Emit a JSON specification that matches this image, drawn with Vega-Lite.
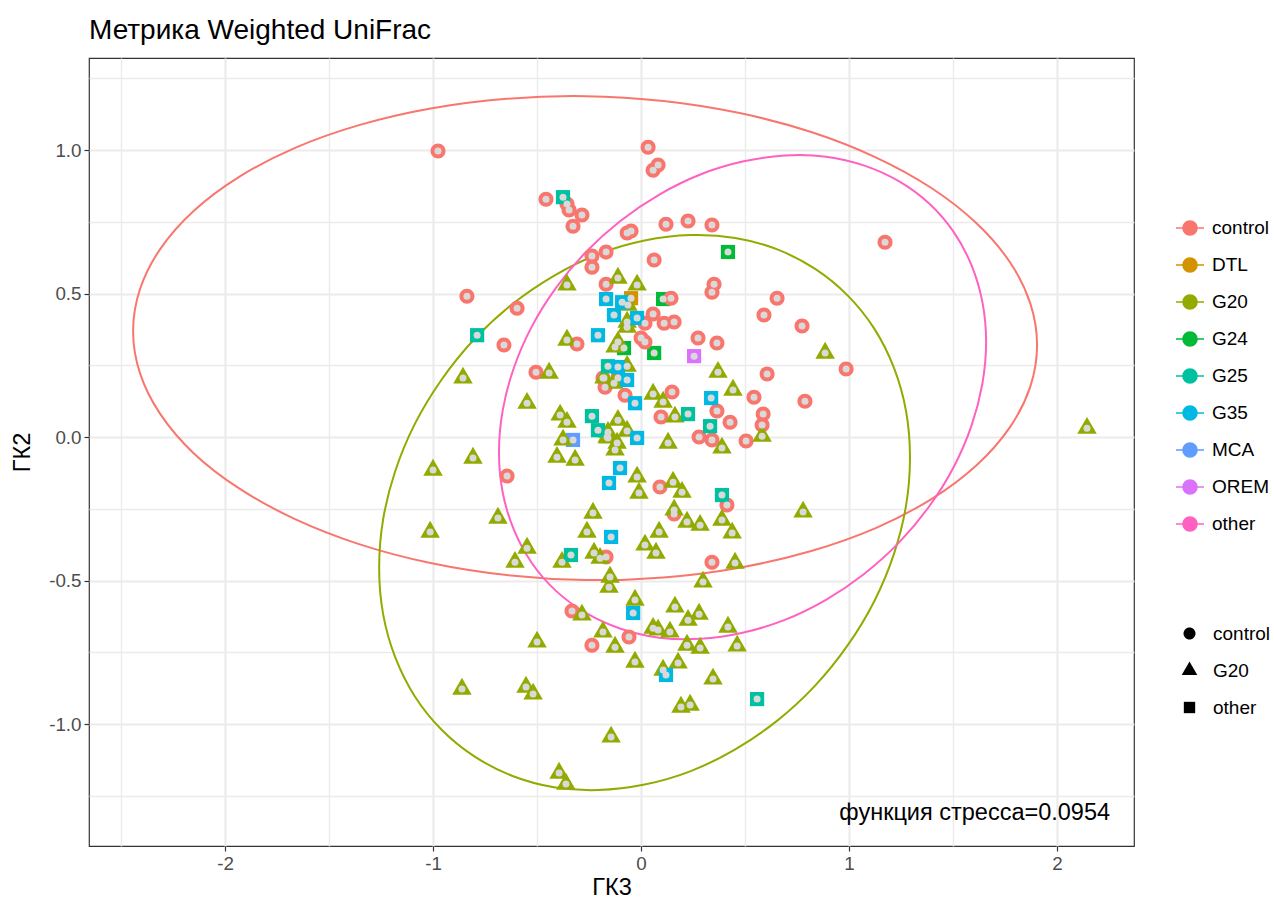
{
  "$schema": "https://vega.github.io/schema/vega-lite/v6.json",
  "autosize": {"type": "none"},
  "width": 1045,
  "height": 788,
  "padding": {"left": 89, "top": 58, "right": 140, "bottom": 55},
  "background": "#FFFFFF",
  "config": {
    "font": "Liberation Sans",
    "view": {"stroke": "#333333", "strokeWidth": 1.2},
    "legend": {"labelFont": "Liberation Sans", "labelFontSize": 19, "labelColor": "#000000"}
  },
  "title": {
    "text": "Метрика Weighted UniFrac",
    "anchor": "start",
    "frame": "group",
    "font": "Liberation Sans",
    "fontSize": 28,
    "fontWeight": "normal",
    "color": "#000000",
    "baseline": "alphabetic",
    "offset": 18,
    "dy": 27
  },
  "datasets": {
    "ellipses": [
      {"grp": "control", "k": 0, "x": 1.904, "y": 0.321},
      {"grp": "control", "k": 1, "x": 1.871, "y": 0.467},
      {"grp": "control", "k": 2, "x": 1.773, "y": 0.61},
      {"grp": "control", "k": 3, "x": 1.613, "y": 0.745},
      {"grp": "control", "k": 4, "x": 1.396, "y": 0.868},
      {"grp": "control", "k": 5, "x": 1.128, "y": 0.975},
      {"grp": "control", "k": 6, "x": 0.818, "y": 1.063},
      {"grp": "control", "k": 7, "x": 0.474, "y": 1.129},
      {"grp": "control", "k": 8, "x": 0.108, "y": 1.171},
      {"grp": "control", "k": 9, "x": -0.269, "y": 1.188},
      {"grp": "control", "k": 10, "x": -0.646, "y": 1.179},
      {"grp": "control", "k": 11, "x": -1.012, "y": 1.145},
      {"grp": "control", "k": 12, "x": -1.356, "y": 1.087},
      {"grp": "control", "k": 13, "x": -1.666, "y": 1.007},
      {"grp": "control", "k": 14, "x": -1.934, "y": 0.906},
      {"grp": "control", "k": 15, "x": -2.151, "y": 0.788},
      {"grp": "control", "k": 16, "x": -2.311, "y": 0.656},
      {"grp": "control", "k": 17, "x": -2.409, "y": 0.515},
      {"grp": "control", "k": 18, "x": -2.442, "y": 0.369},
      {"grp": "control", "k": 19, "x": -2.409, "y": 0.223},
      {"grp": "control", "k": 20, "x": -2.311, "y": 0.08},
      {"grp": "control", "k": 21, "x": -2.151, "y": -0.056},
      {"grp": "control", "k": 22, "x": -1.934, "y": -0.178},
      {"grp": "control", "k": 23, "x": -1.666, "y": -0.285},
      {"grp": "control", "k": 24, "x": -1.356, "y": -0.373},
      {"grp": "control", "k": 25, "x": -1.012, "y": -0.439},
      {"grp": "control", "k": 26, "x": -0.646, "y": -0.481},
      {"grp": "control", "k": 27, "x": -0.269, "y": -0.498},
      {"grp": "control", "k": 28, "x": 0.108, "y": -0.489},
      {"grp": "control", "k": 29, "x": 0.474, "y": -0.455},
      {"grp": "control", "k": 30, "x": 0.818, "y": -0.397},
      {"grp": "control", "k": 31, "x": 1.128, "y": -0.317},
      {"grp": "control", "k": 32, "x": 1.396, "y": -0.216},
      {"grp": "control", "k": 33, "x": 1.613, "y": -0.098},
      {"grp": "control", "k": 34, "x": 1.773, "y": 0.034},
      {"grp": "control", "k": 35, "x": 1.871, "y": 0.175},
      {"grp": "G20", "k": 0, "x": 1.293, "y": -0.071},
      {"grp": "G20", "k": 1, "x": 1.274, "y": 0.091},
      {"grp": "G20", "k": 2, "x": 1.216, "y": 0.241},
      {"grp": "G20", "k": 3, "x": 1.122, "y": 0.377},
      {"grp": "G20", "k": 4, "x": 0.994, "y": 0.493},
      {"grp": "G20", "k": 5, "x": 0.837, "y": 0.586},
      {"grp": "G20", "k": 6, "x": 0.655, "y": 0.654},
      {"grp": "G20", "k": 7, "x": 0.453, "y": 0.694},
      {"grp": "G20", "k": 8, "x": 0.239, "y": 0.704},
      {"grp": "G20", "k": 9, "x": 0.017, "y": 0.685},
      {"grp": "G20", "k": 10, "x": -0.205, "y": 0.638},
      {"grp": "G20", "k": 11, "x": -0.419, "y": 0.562},
      {"grp": "G20", "k": 12, "x": -0.621, "y": 0.462},
      {"grp": "G20", "k": 13, "x": -0.803, "y": 0.34},
      {"grp": "G20", "k": 14, "x": -0.96, "y": 0.199},
      {"grp": "G20", "k": 15, "x": -1.088, "y": 0.045},
      {"grp": "G20", "k": 16, "x": -1.182, "y": -0.119},
      {"grp": "G20", "k": 17, "x": -1.24, "y": -0.287},
      {"grp": "G20", "k": 18, "x": -1.259, "y": -0.455},
      {"grp": "G20", "k": 19, "x": -1.24, "y": -0.617},
      {"grp": "G20", "k": 20, "x": -1.182, "y": -0.767},
      {"grp": "G20", "k": 21, "x": -1.088, "y": -0.903},
      {"grp": "G20", "k": 22, "x": -0.96, "y": -1.019},
      {"grp": "G20", "k": 23, "x": -0.803, "y": -1.112},
      {"grp": "G20", "k": 24, "x": -0.621, "y": -1.18},
      {"grp": "G20", "k": 25, "x": -0.419, "y": -1.22},
      {"grp": "G20", "k": 26, "x": -0.205, "y": -1.23},
      {"grp": "G20", "k": 27, "x": 0.017, "y": -1.211},
      {"grp": "G20", "k": 28, "x": 0.239, "y": -1.164},
      {"grp": "G20", "k": 29, "x": 0.453, "y": -1.088},
      {"grp": "G20", "k": 30, "x": 0.655, "y": -0.988},
      {"grp": "G20", "k": 31, "x": 0.837, "y": -0.866},
      {"grp": "G20", "k": 32, "x": 0.994, "y": -0.725},
      {"grp": "G20", "k": 33, "x": 1.122, "y": -0.571},
      {"grp": "G20", "k": 34, "x": 1.216, "y": -0.407},
      {"grp": "G20", "k": 35, "x": 1.274, "y": -0.239},
      {"grp": "other", "k": 0, "x": 1.659, "y": 0.331},
      {"grp": "other", "k": 1, "x": 1.641, "y": 0.471},
      {"grp": "other", "k": 2, "x": 1.588, "y": 0.6},
      {"grp": "other", "k": 3, "x": 1.502, "y": 0.716},
      {"grp": "other", "k": 4, "x": 1.385, "y": 0.814},
      {"grp": "other", "k": 5, "x": 1.241, "y": 0.891},
      {"grp": "other", "k": 6, "x": 1.074, "y": 0.946},
      {"grp": "other", "k": 7, "x": 0.889, "y": 0.977},
      {"grp": "other", "k": 8, "x": 0.691, "y": 0.981},
      {"grp": "other", "k": 9, "x": 0.488, "y": 0.96},
      {"grp": "other", "k": 10, "x": 0.285, "y": 0.915},
      {"grp": "other", "k": 11, "x": 0.088, "y": 0.845},
      {"grp": "other", "k": 12, "x": -0.098, "y": 0.754},
      {"grp": "other", "k": 13, "x": -0.265, "y": 0.645},
      {"grp": "other", "k": 14, "x": -0.409, "y": 0.52},
      {"grp": "other", "k": 15, "x": -0.526, "y": 0.384},
      {"grp": "other", "k": 16, "x": -0.612, "y": 0.24},
      {"grp": "other", "k": 17, "x": -0.665, "y": 0.093},
      {"grp": "other", "k": 18, "x": -0.683, "y": -0.053},
      {"grp": "other", "k": 19, "x": -0.665, "y": -0.193},
      {"grp": "other", "k": 20, "x": -0.612, "y": -0.322},
      {"grp": "other", "k": 21, "x": -0.526, "y": -0.438},
      {"grp": "other", "k": 22, "x": -0.409, "y": -0.536},
      {"grp": "other", "k": 23, "x": -0.265, "y": -0.613},
      {"grp": "other", "k": 24, "x": -0.098, "y": -0.668},
      {"grp": "other", "k": 25, "x": 0.088, "y": -0.699},
      {"grp": "other", "k": 26, "x": 0.285, "y": -0.703},
      {"grp": "other", "k": 27, "x": 0.488, "y": -0.682},
      {"grp": "other", "k": 28, "x": 0.691, "y": -0.637},
      {"grp": "other", "k": 29, "x": 0.889, "y": -0.567},
      {"grp": "other", "k": 30, "x": 1.074, "y": -0.476},
      {"grp": "other", "k": 31, "x": 1.241, "y": -0.367},
      {"grp": "other", "k": 32, "x": 1.385, "y": -0.242},
      {"grp": "other", "k": 33, "x": 1.502, "y": -0.106},
      {"grp": "other", "k": 34, "x": 1.588, "y": 0.038},
      {"grp": "other", "k": 35, "x": 1.641, "y": 0.186}
    ],
    "samples": [
      {"grp": "DTL", "shp": "other", "x": -0.048, "y": 0.484},
      {"grp": "G24", "shp": "other", "x": 0.418, "y": 0.645},
      {"grp": "G24", "shp": "other", "x": 0.106, "y": 0.481},
      {"grp": "G24", "shp": "other", "x": -0.082, "y": 0.31},
      {"grp": "G24", "shp": "other", "x": 0.063, "y": 0.293},
      {"grp": "MCA", "shp": "other", "x": -0.327, "y": -0.01},
      {"grp": "control", "shp": "control", "x": -0.976, "y": 0.997},
      {"grp": "control", "shp": "control", "x": 0.034, "y": 1.01},
      {"grp": "control", "shp": "control", "x": 0.058, "y": 0.93},
      {"grp": "control", "shp": "control", "x": 0.082, "y": 0.948},
      {"grp": "control", "shp": "control", "x": -0.457, "y": 0.829},
      {"grp": "control", "shp": "control", "x": -0.356, "y": 0.812},
      {"grp": "control", "shp": "control", "x": -0.346, "y": 0.791},
      {"grp": "control", "shp": "control", "x": -0.284, "y": 0.774},
      {"grp": "control", "shp": "control", "x": -0.327, "y": 0.735},
      {"grp": "control", "shp": "control", "x": -0.067, "y": 0.711},
      {"grp": "control", "shp": "control", "x": -0.048, "y": 0.718},
      {"grp": "control", "shp": "control", "x": 0.12, "y": 0.742},
      {"grp": "control", "shp": "control", "x": 0.226, "y": 0.753},
      {"grp": "control", "shp": "control", "x": 0.341, "y": 0.739},
      {"grp": "control", "shp": "control", "x": 1.173, "y": 0.679},
      {"grp": "control", "shp": "control", "x": -0.168, "y": 0.645},
      {"grp": "control", "shp": "control", "x": -0.236, "y": 0.631},
      {"grp": "control", "shp": "control", "x": -0.236, "y": 0.592},
      {"grp": "control", "shp": "control", "x": 0.063, "y": 0.617},
      {"grp": "control", "shp": "control", "x": 0.351, "y": 0.533},
      {"grp": "control", "shp": "control", "x": 0.341, "y": 0.505},
      {"grp": "control", "shp": "control", "x": -0.837, "y": 0.491},
      {"grp": "control", "shp": "control", "x": -0.168, "y": 0.533},
      {"grp": "control", "shp": "control", "x": -0.596, "y": 0.449},
      {"grp": "control", "shp": "control", "x": 0.144, "y": 0.484},
      {"grp": "control", "shp": "control", "x": 0.654, "y": 0.484},
      {"grp": "control", "shp": "control", "x": 0.058, "y": 0.429},
      {"grp": "control", "shp": "control", "x": 0.019, "y": 0.397},
      {"grp": "control", "shp": "control", "x": 0.111, "y": 0.397},
      {"grp": "control", "shp": "control", "x": 0.159, "y": 0.401},
      {"grp": "control", "shp": "control", "x": 0.591, "y": 0.425},
      {"grp": "control", "shp": "control", "x": 0.774, "y": 0.387},
      {"grp": "control", "shp": "control", "x": -0.659, "y": 0.321},
      {"grp": "control", "shp": "control", "x": -0.308, "y": 0.324},
      {"grp": "control", "shp": "control", "x": 0.0, "y": 0.345},
      {"grp": "control", "shp": "control", "x": 0.019, "y": 0.331},
      {"grp": "control", "shp": "control", "x": 0.274, "y": 0.345},
      {"grp": "control", "shp": "control", "x": 0.365, "y": 0.328},
      {"grp": "control", "shp": "control", "x": 0.986, "y": 0.237},
      {"grp": "control", "shp": "control", "x": 0.606, "y": 0.22},
      {"grp": "control", "shp": "control", "x": -0.505, "y": 0.226},
      {"grp": "control", "shp": "control", "x": -0.183, "y": 0.206},
      {"grp": "control", "shp": "control", "x": -0.173, "y": 0.174},
      {"grp": "control", "shp": "control", "x": -0.111, "y": 0.206},
      {"grp": "control", "shp": "control", "x": -0.077, "y": 0.146},
      {"grp": "control", "shp": "control", "x": 0.149, "y": 0.157},
      {"grp": "control", "shp": "control", "x": 0.543, "y": 0.139},
      {"grp": "control", "shp": "control", "x": 0.788, "y": 0.125},
      {"grp": "control", "shp": "control", "x": 0.096, "y": 0.07},
      {"grp": "control", "shp": "control", "x": 0.365, "y": 0.091},
      {"grp": "control", "shp": "control", "x": 0.587, "y": 0.08},
      {"grp": "control", "shp": "control", "x": 0.428, "y": 0.052},
      {"grp": "control", "shp": "control", "x": 0.582, "y": 0.042},
      {"grp": "control", "shp": "control", "x": 0.279, "y": 0.0},
      {"grp": "control", "shp": "control", "x": 0.341, "y": -0.01},
      {"grp": "control", "shp": "control", "x": 0.505, "y": -0.014},
      {"grp": "control", "shp": "control", "x": -0.644, "y": -0.136},
      {"grp": "control", "shp": "control", "x": 0.091, "y": -0.174},
      {"grp": "control", "shp": "control", "x": 0.413, "y": -0.237},
      {"grp": "control", "shp": "control", "x": 0.159, "y": -0.268},
      {"grp": "control", "shp": "control", "x": -0.168, "y": -0.418},
      {"grp": "control", "shp": "control", "x": 0.341, "y": -0.436},
      {"grp": "control", "shp": "control", "x": -0.332, "y": -0.606},
      {"grp": "control", "shp": "control", "x": -0.058, "y": -0.697},
      {"grp": "control", "shp": "control", "x": -0.236, "y": -0.725},
      {"grp": "G20", "shp": "G20", "x": -0.356, "y": 0.53},
      {"grp": "G20", "shp": "G20", "x": -0.111, "y": 0.554},
      {"grp": "G20", "shp": "G20", "x": -0.019, "y": 0.53},
      {"grp": "G20", "shp": "G20", "x": -0.063, "y": 0.46},
      {"grp": "G20", "shp": "G20", "x": -0.067, "y": 0.401},
      {"grp": "G20", "shp": "G20", "x": -0.067, "y": 0.383},
      {"grp": "G20", "shp": "G20", "x": -0.356, "y": 0.338},
      {"grp": "G20", "shp": "G20", "x": -0.111, "y": 0.331},
      {"grp": "G20", "shp": "G20", "x": -0.125, "y": 0.314},
      {"grp": "G20", "shp": "G20", "x": 0.37, "y": 0.226},
      {"grp": "G20", "shp": "G20", "x": 0.442, "y": 0.164},
      {"grp": "G20", "shp": "G20", "x": 0.885, "y": 0.293},
      {"grp": "G20", "shp": "G20", "x": 0.058, "y": 0.15},
      {"grp": "G20", "shp": "G20", "x": 0.106, "y": 0.122},
      {"grp": "G20", "shp": "G20", "x": 0.163, "y": 0.07},
      {"grp": "G20", "shp": "G20", "x": 0.13, "y": -0.021},
      {"grp": "G20", "shp": "G20", "x": 0.389, "y": -0.038},
      {"grp": "G20", "shp": "G20", "x": 0.582, "y": 0.003},
      {"grp": "G20", "shp": "G20", "x": -0.442, "y": 0.223},
      {"grp": "G20", "shp": "G20", "x": -0.067, "y": 0.247},
      {"grp": "G20", "shp": "G20", "x": -0.178, "y": 0.206},
      {"grp": "G20", "shp": "G20", "x": -0.13, "y": 0.188},
      {"grp": "G20", "shp": "G20", "x": -0.856, "y": 0.206},
      {"grp": "G20", "shp": "G20", "x": -0.548, "y": 0.118},
      {"grp": "G20", "shp": "G20", "x": -0.389, "y": 0.077},
      {"grp": "G20", "shp": "G20", "x": -0.356, "y": 0.052},
      {"grp": "G20", "shp": "G20", "x": -0.111, "y": 0.059},
      {"grp": "G20", "shp": "G20", "x": -0.067, "y": 0.021},
      {"grp": "G20", "shp": "G20", "x": -0.163, "y": 0.0},
      {"grp": "G20", "shp": "G20", "x": -0.115, "y": -0.021},
      {"grp": "G20", "shp": "G20", "x": -0.125, "y": -0.045},
      {"grp": "G20", "shp": "G20", "x": -0.375, "y": -0.01},
      {"grp": "G20", "shp": "G20", "x": -0.404, "y": -0.07},
      {"grp": "G20", "shp": "G20", "x": -0.317, "y": -0.08},
      {"grp": "G20", "shp": "G20", "x": -0.808, "y": -0.073},
      {"grp": "G20", "shp": "G20", "x": -1.0, "y": -0.115},
      {"grp": "G20", "shp": "G20", "x": -0.019, "y": -0.139},
      {"grp": "G20", "shp": "G20", "x": -0.01, "y": -0.195},
      {"grp": "G20", "shp": "G20", "x": 0.154, "y": -0.157},
      {"grp": "G20", "shp": "G20", "x": 0.197, "y": -0.192},
      {"grp": "G20", "shp": "G20", "x": -0.688, "y": -0.282},
      {"grp": "G20", "shp": "G20", "x": -1.014, "y": -0.331},
      {"grp": "G20", "shp": "G20", "x": -0.231, "y": -0.265},
      {"grp": "G20", "shp": "G20", "x": 0.159, "y": -0.254},
      {"grp": "G20", "shp": "G20", "x": 0.221, "y": -0.296},
      {"grp": "G20", "shp": "G20", "x": 0.284, "y": -0.307},
      {"grp": "G20", "shp": "G20", "x": 0.389, "y": -0.289},
      {"grp": "G20", "shp": "G20", "x": 0.438, "y": -0.334},
      {"grp": "G20", "shp": "G20", "x": -0.26, "y": -0.331},
      {"grp": "G20", "shp": "G20", "x": 0.087, "y": -0.331},
      {"grp": "G20", "shp": "G20", "x": 0.019, "y": -0.376},
      {"grp": "G20", "shp": "G20", "x": 0.072, "y": -0.404},
      {"grp": "G20", "shp": "G20", "x": -0.548, "y": -0.387},
      {"grp": "G20", "shp": "G20", "x": -0.606, "y": -0.436},
      {"grp": "G20", "shp": "G20", "x": -0.38, "y": -0.436},
      {"grp": "G20", "shp": "G20", "x": -0.226, "y": -0.404},
      {"grp": "G20", "shp": "G20", "x": -0.197, "y": -0.422},
      {"grp": "G20", "shp": "G20", "x": 0.452, "y": -0.439},
      {"grp": "G20", "shp": "G20", "x": -0.149, "y": -0.488},
      {"grp": "G20", "shp": "G20", "x": -0.154, "y": -0.523},
      {"grp": "G20", "shp": "G20", "x": 0.298, "y": -0.505},
      {"grp": "G20", "shp": "G20", "x": -0.029, "y": -0.568},
      {"grp": "G20", "shp": "G20", "x": -0.284, "y": -0.62},
      {"grp": "G20", "shp": "G20", "x": 0.163, "y": -0.592},
      {"grp": "G20", "shp": "G20", "x": 0.226, "y": -0.638},
      {"grp": "G20", "shp": "G20", "x": 0.279, "y": -0.617},
      {"grp": "G20", "shp": "G20", "x": 0.058, "y": -0.666},
      {"grp": "G20", "shp": "G20", "x": 0.082, "y": -0.672},
      {"grp": "G20", "shp": "G20", "x": 0.139, "y": -0.679},
      {"grp": "G20", "shp": "G20", "x": 0.418, "y": -0.662},
      {"grp": "G20", "shp": "G20", "x": -0.183, "y": -0.679},
      {"grp": "G20", "shp": "G20", "x": -0.125, "y": -0.732},
      {"grp": "G20", "shp": "G20", "x": 0.221, "y": -0.725},
      {"grp": "G20", "shp": "G20", "x": 0.284, "y": -0.735},
      {"grp": "G20", "shp": "G20", "x": 0.462, "y": -0.728},
      {"grp": "G20", "shp": "G20", "x": -0.5, "y": -0.714},
      {"grp": "G20", "shp": "G20", "x": -0.029, "y": -0.784},
      {"grp": "G20", "shp": "G20", "x": 0.178, "y": -0.787},
      {"grp": "G20", "shp": "G20", "x": 0.106, "y": -0.812},
      {"grp": "G20", "shp": "G20", "x": 0.346, "y": -0.843},
      {"grp": "G20", "shp": "G20", "x": -0.861, "y": -0.878},
      {"grp": "G20", "shp": "G20", "x": -0.553, "y": -0.871},
      {"grp": "G20", "shp": "G20", "x": -0.519, "y": -0.895},
      {"grp": "G20", "shp": "G20", "x": 0.192, "y": -0.941},
      {"grp": "G20", "shp": "G20", "x": 0.236, "y": -0.934},
      {"grp": "G20", "shp": "G20", "x": -0.144, "y": -1.045},
      {"grp": "G20", "shp": "G20", "x": -0.394, "y": -1.171},
      {"grp": "G20", "shp": "G20", "x": -0.361, "y": -1.209},
      {"grp": "G20", "shp": "G20", "x": 0.779, "y": -0.261},
      {"grp": "G20", "shp": "G20", "x": 2.144, "y": 0.031},
      {"grp": "G20", "shp": "G20", "x": -0.159, "y": 0.017},
      {"grp": "G20", "shp": "G20", "x": -0.159, "y": -0.003},
      {"grp": "G25", "shp": "other", "x": -0.375, "y": 0.836},
      {"grp": "G25", "shp": "other", "x": -0.788, "y": 0.355},
      {"grp": "G25", "shp": "other", "x": -0.159, "y": 0.247},
      {"grp": "G25", "shp": "other", "x": -0.236, "y": 0.073},
      {"grp": "G25", "shp": "other", "x": -0.207, "y": 0.024},
      {"grp": "G25", "shp": "other", "x": 0.226, "y": 0.08},
      {"grp": "G25", "shp": "other", "x": 0.332, "y": 0.038},
      {"grp": "G25", "shp": "other", "x": 0.389, "y": -0.202},
      {"grp": "G25", "shp": "other", "x": -0.337, "y": -0.411},
      {"grp": "G25", "shp": "other", "x": 0.558, "y": -0.913},
      {"grp": "G35", "shp": "other", "x": -0.168, "y": 0.481},
      {"grp": "G35", "shp": "other", "x": -0.091, "y": 0.47},
      {"grp": "G35", "shp": "other", "x": -0.13, "y": 0.425},
      {"grp": "G35", "shp": "other", "x": -0.019, "y": 0.415},
      {"grp": "G35", "shp": "other", "x": -0.207, "y": 0.355},
      {"grp": "G35", "shp": "other", "x": -0.111, "y": 0.244},
      {"grp": "G35", "shp": "other", "x": -0.067, "y": 0.199},
      {"grp": "G35", "shp": "other", "x": -0.029, "y": 0.118},
      {"grp": "G35", "shp": "other", "x": 0.337, "y": 0.136},
      {"grp": "G35", "shp": "other", "x": -0.019, "y": -0.003},
      {"grp": "G35", "shp": "other", "x": -0.101, "y": -0.108},
      {"grp": "G35", "shp": "other", "x": -0.154, "y": -0.16},
      {"grp": "G35", "shp": "other", "x": -0.144, "y": -0.348},
      {"grp": "G35", "shp": "other", "x": -0.038, "y": -0.613},
      {"grp": "G35", "shp": "other", "x": 0.12, "y": -0.829},
      {"grp": "OREM", "shp": "other", "x": 0.255, "y": 0.282}
    ],
    "stress": [
      {"x": 2.255, "y": -1.31, "label": "функция стресса=0.0954"}
    ]
  },
  "encoding": {
    "x": {
      "field": "x",
      "type": "quantitative",
      "scale": {"domain": [-2.654, 2.37], "nice": false, "zero": false},
      "axis": {
        "title": "ГК3",
        "values": [-2.5, -2, -1.5, -1, -0.5, 0, 0.5, 1, 1.5, 2],
        "labelExpr": "abs(datum.value - round(datum.value)) > 0.01 ? '' : (datum.value < 0 ? '-' + format(-datum.value, 'd') : format(datum.value, 'd'))",
        "labelOverlap": false,
        "labelFlush": false,
        "domain": false,
        "grid": true,
        "gridColor": "#EBEBEB",
        "gridWidth": {"condition": {"test": "abs(datum.value - round(datum.value)) > 0.01", "value": 1.4}, "value": 2.2},
        "ticks": true,
        "tickColor": "#333333",
        "tickSize": 5,
        "tickWidth": 1.2,
        "tickOpacity": {"condition": {"test": "abs(datum.value - round(datum.value)) > 0.01", "value": 0}, "value": 1},
        "labelFont": "Liberation Sans",
        "labelFontSize": 18.8,
        "labelColor": "#4D4D4D",
        "labelPadding": 3,
        "titleFont": "Liberation Sans",
        "titleFontSize": 23.5,
        "titleFontWeight": "normal",
        "titleColor": "#000000",
        "titlePadding": 3
      }
    },
    "y": {
      "field": "y",
      "type": "quantitative",
      "scale": {"domain": [-1.425, 1.321], "nice": false, "zero": false},
      "axis": {
        "title": "ГК2",
        "values": [-1.25, -1, -0.75, -0.5, -0.25, 0, 0.25, 0.5, 0.75, 1, 1.25],
        "labelExpr": "abs(datum.value * 2 - round(datum.value * 2)) > 0.01 ? '' : (datum.value < 0 ? '-' + format(-datum.value, '.1f') : format(datum.value, '.1f'))",
        "labelOverlap": false,
        "labelFlush": false,
        "domain": false,
        "grid": true,
        "gridColor": "#EBEBEB",
        "gridWidth": {"condition": {"test": "abs(datum.value * 2 - round(datum.value * 2)) > 0.01", "value": 1.4}, "value": 2.2},
        "ticks": true,
        "tickColor": "#333333",
        "tickSize": 5,
        "tickWidth": 1.2,
        "tickOpacity": {"condition": {"test": "abs(datum.value * 2 - round(datum.value * 2)) > 0.01", "value": 0}, "value": 1},
        "labelFont": "Liberation Sans",
        "labelFontSize": 18.8,
        "labelColor": "#4D4D4D",
        "labelPadding": 3,
        "titleFont": "Liberation Sans",
        "titleFontSize": 23.5,
        "titleFontWeight": "normal",
        "titleColor": "#000000",
        "titlePadding": 14
      }
    }
  },
  "layer": [
    {
      "data": {"name": "ellipses"},
      "mark": {"type": "line", "interpolate": "cardinal-closed", "strokeWidth": 2},
      "encoding": {
        "color": {
          "field": "grp",
          "type": "nominal",
          "scale": {
            "domain": ["control", "DTL", "G20", "G24", "G25", "G35", "MCA", "OREM", "other"],
            "range": ["#F8766D", "#D39200", "#93AA00", "#00BA38", "#00C19F", "#00B9E3", "#619CFF", "#DB72FB", "#FF61C3"]
          },
          "legend": {
            "title": null,
            "orient": "none",
            "legendX": 1086,
            "legendY": 155,
            "padding": 0,
            "values": ["control", "DTL", "G20", "G24", "G25", "G35", "MCA", "OREM", "other"],
            "symbolType": "M-1,0L1,0M-0.5,0A0.5,0.5,0,1,1,0.5,0A0.5,0.5,0,1,1,-0.5,0Z",
            "symbolSize": 784,
            "symbolStrokeWidth": 1.6,
            "labelOffset": 7,
            "labelFontSize": 19,
            "rowPadding": 11,
            "encode": {
              "symbols": {
                "update": {
                  "fill": {"scale": "color", "field": "value"},
                  "stroke": {"scale": "color", "field": "value"},
                  "opacity": {"value": 1}
                }
              }
            }
          }
        },
        "order": {"field": "k", "type": "quantitative"}
      }
    },
    {
      "data": {"name": "samples"},
      "mark": {"type": "point", "filled": true, "opacity": 1, "size": 400},
      "encoding": {
        "color": {
          "field": "grp",
          "type": "nominal",
          "scale": {
            "domain": ["control", "DTL", "G20", "G24", "G25", "G35", "MCA", "OREM", "other"],
            "range": ["#F8766D", "#D39200", "#93AA00", "#00BA38", "#00C19F", "#00B9E3", "#619CFF", "#DB72FB", "#FF61C3"]
          },
          "legend": {
            "title": null,
            "orient": "none",
            "legendX": 1086,
            "legendY": 155,
            "padding": 0,
            "values": ["control", "DTL", "G20", "G24", "G25", "G35", "MCA", "OREM", "other"],
            "symbolType": "M-1,0L1,0M-0.5,0A0.5,0.5,0,1,1,0.5,0A0.5,0.5,0,1,1,-0.5,0Z",
            "symbolSize": 784,
            "symbolStrokeWidth": 1.6,
            "labelOffset": 7,
            "labelFontSize": 19,
            "rowPadding": 11,
            "encode": {
              "symbols": {
                "update": {
                  "fill": {"scale": "color", "field": "value"},
                  "stroke": {"scale": "color", "field": "value"},
                  "opacity": {"value": 1}
                }
              }
            }
          }
        },
        "shape": {
          "field": "shp",
          "type": "nominal",
          "scale": {
            "domain": ["control", "G20", "other"],
            "range": [
              "M-0.75,0A0.75,0.75,0,1,1,0.75,0A0.75,0.75,0,1,1,-0.75,0Z",
              "M0,-1.126L0.975,0.563L-0.975,0.563Z",
              "M-0.71,-0.71L0.71,-0.71L0.71,0.71L-0.71,0.71Z"
            ]
          },
          "legend": {
            "title": null,
            "orient": "none",
            "legendX": 1091,
            "legendY": 566,
            "padding": 0,
            "symbolSize": 256,
            "symbolStrokeWidth": 0,
            "labelOffset": 14,
            "labelFontSize": 19,
            "rowPadding": 17,
            "encode": {
              "symbols": {
                "update": {
                  "fill": {"value": "#000000"},
                  "stroke": {"value": "transparent"},
                  "opacity": {"value": 1}
                }
              }
            }
          }
        }
      }
    },
    {
      "data": {"name": "samples"},
      "mark": {"type": "point", "filled": true, "opacity": 1, "size": 49, "shape": "circle", "color": "#D9D9D9"},
      "encoding": {}
    },
    {
      "data": {"name": "stress"},
      "mark": {"type": "text", "align": "right", "baseline": "middle", "font": "Liberation Sans", "fontSize": 23.5, "color": "#000000"},
      "encoding": {"text": {"field": "label", "type": "nominal"}}
    }
  ]
}
